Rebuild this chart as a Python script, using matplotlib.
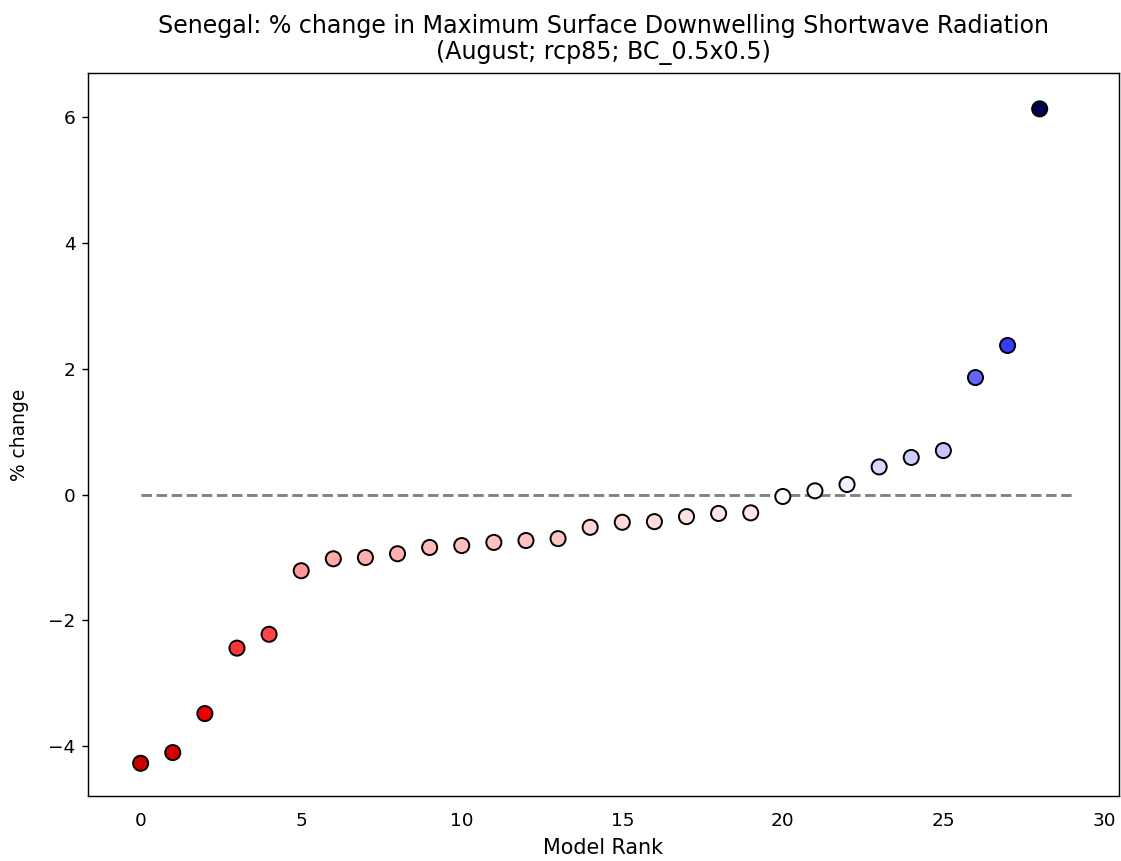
import matplotlib
matplotlib.use("Agg")
import matplotlib.pyplot as plt
import numpy as np

ranks = list(range(29))
pct_change = [-4.27, -4.10, -3.48, -2.44, -2.22, -1.21, -1.02, -1.00, -0.94, -0.84,
              -0.81, -0.76, -0.73, -0.70, -0.52, -0.44, -0.43, -0.35, -0.30, -0.29,
              -0.03, 0.06, 0.16, 0.44, 0.59, 0.70, 1.86, 2.37, 6.13]
title = "Senegal: % change in Maximum Surface Downwelling Shortwave Radiation\n(August; rcp85; BC_0.5x0.5)"

dpi = 128
fig = plt.figure(figsize=(1121 / dpi, 861 / dpi), dpi=dpi)
ax = fig.add_axes([88 / 1121, (861 - 796) / 861, (1119 - 88) / 1121, (796 - 73) / 861])

vmax = max(abs(v) for v in pct_change)
ax.hlines(0, 0, len(pct_change), colors="grey", linestyles="dashed", linewidth=1.6, zorder=1)
ax.scatter(ranks, pct_change, c=pct_change, cmap="seismic_r", vmin=-vmax, vmax=vmax,
           s=72, edgecolors="black", linewidths=1.1, zorder=2)

ax.set_xlim(-1.64, 30.47)
ax.set_ylim(-4.79, 6.70)
ax.set_xticks([0, 5, 10, 15, 20, 25, 30])
ax.set_yticks([-4, -2, 0, 2, 4, 6])
ax.set_yticklabels(["\u22124", "\u22122", "0", "2", "4", "6"])
ax.tick_params(axis="x", length=0, pad=9)
ax.tick_params(axis="both", labelsize=10.4)
ax.set_xlabel("Model Rank", fontsize=11.6, labelpad=4.5)
ax.set_ylabel("% change", fontsize=10.5, labelpad=11)
ax.set_title(title, fontsize=13.4, pad=8, linespacing=1.1)

fig.savefig("out.png", dpi=dpi)
